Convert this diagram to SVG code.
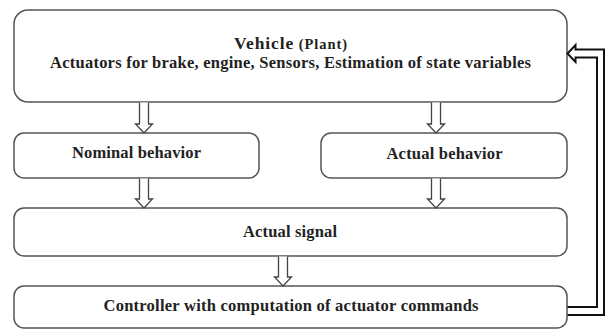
<svg xmlns="http://www.w3.org/2000/svg" width="606" height="330" viewBox="0 0 606 330">
<style>
.box{fill:#fff;stroke:#555;stroke-width:1.5}
.t{font-family:"Liberation Serif","Times New Roman",serif;font-weight:bold;fill:#222;text-anchor:middle;font-size:16.5px}
.arr{fill:#fff;stroke:#444;stroke-width:1.3;stroke-linejoin:miter}
.fb{fill:none;stroke:#111;stroke-width:2}
</style>
<rect width="606" height="330" fill="#fff"/>
<g id="vehicle">
<rect class="box" x="14" y="10" width="553" height="92" rx="14"/>
<text class="t" x="290.5" y="49" textLength="113"><tspan font-size="17.5">Vehicle</tspan><tspan font-size="14.5"> (Plant)</tspan></text>
<text class="t" x="290.5" y="68" textLength="481">Actuators for brake, engine, Sensors, Estimation of state variables</text>
</g>
<g id="nominal">
<rect class="box" x="14" y="133" width="245" height="45" rx="10"/>
<text class="t" x="136.5" y="158" textLength="129">Nominal behavior</text>
</g>
<g id="actual-behavior">
<rect class="box" x="321" y="133" width="246" height="45" rx="10"/>
<text class="t" x="444.5" y="159" textLength="116">Actual behavior</text>
</g>
<g id="actual-signal">
<rect class="box" x="14" y="208" width="553" height="48" rx="10"/>
<text class="t" x="290" y="237" textLength="94">Actual signal</text>
</g>
<g id="controller">
<rect class="box" x="14" y="286" width="553" height="42" rx="10"/>
<text class="t" x="291" y="311" textLength="375">Controller with computation of actuator commands</text>
</g>
<g id="connectors">
<path class="arr" d="M139.5,102.5 V124 H135.5 L144,133 L152.5,124 H148.5 V102.5"/>
<path class="arr" d="M431.5,102.5 V124 H427.5 L436,133 L444.5,124 H440.5 V102.5"/>
<path class="arr" d="M139.5,178.5 V199 H135.5 L144,208 L152.5,199 H148.5 V178.5"/>
<path class="arr" d="M431.5,178.5 V199 H427.5 L436,208 L444.5,199 H440.5 V178.5"/>
<path class="arr" d="M278.5,256.5 V277 H274.5 L283,286 L291.5,277 H287.5 V256.5"/>
<path class="fb" d="M567.5,315 H604 V49.5 H575.5 V45 L567.5,53.5 L575.5,62 V57.5 H597 V307 H567.5"/>
</g>
</svg>
